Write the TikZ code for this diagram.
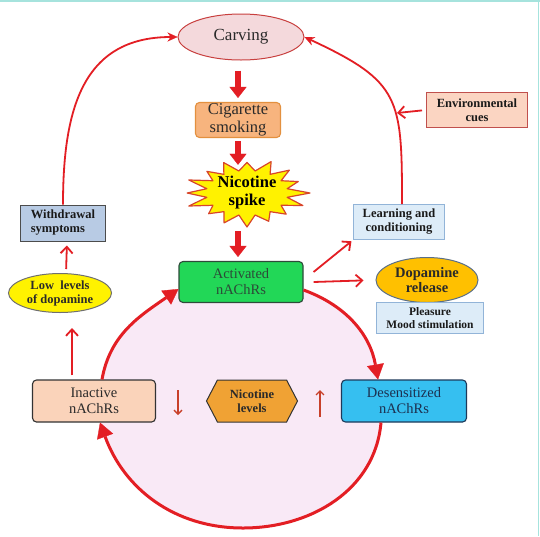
\documentclass[tikz,border=0pt]{standalone}
\usepackage{fontspec}
\setmainfont{Liberation Serif}
\usetikzlibrary{arrows.meta,shapes.geometric,shapes.symbols,backgrounds}
\definecolor{arrred}{HTML}{E31E24}
\definecolor{txt}{HTML}{2A2A2A}
\definecolor{carvfill}{HTML}{F4D9DC}
\definecolor{carvdraw}{HTML}{C8403F}
\definecolor{cigfill}{HTML}{F7B47E}
\definecolor{cigdraw}{HTML}{E3903F}
\definecolor{stardraw}{HTML}{D8452A}
\definecolor{actfill}{HTML}{22D757}
\definecolor{actdraw}{HTML}{2E4B3A}
\definecolor{acttxt}{HTML}{2C4A38}
\definecolor{pinkfill}{HTML}{F9E9F6}
\definecolor{inactfill}{HTML}{FAD3BA}
\definecolor{desfill}{HTML}{36BFF0}
\definecolor{desdraw}{HTML}{1E3A5A}
\definecolor{destxt}{HTML}{1C3050}
\definecolor{nicfill}{HTML}{F0A234}
\definecolor{lbfill}{HTML}{DDECF8}
\definecolor{lbdraw}{HTML}{92B4D8}
\definecolor{envfill}{HTML}{FBD5C2}
\definecolor{envdraw}{HTML}{C0504D}
\definecolor{dopfill}{HTML}{FFC000}
\definecolor{dopdraw}{HTML}{5A6F88}
\definecolor{withfill}{HTML}{B8CBE4}
\definecolor{lowdraw}{HTML}{707070}
\definecolor{smallred}{HTML}{C8402A}
\definecolor{tealline}{HTML}{A6E3DD}
\tikzset{
  base/.style={inner sep=0pt, align=center, text=txt},
  rbox/.style={base, draw, rounded corners=4pt, line width=1.1pt},
  sbox/.style={base, draw, line width=1pt},
  ellbox/.style={base, ellipse, draw, line width=1pt},
  blockarr/.style={draw=arrred, line width=6pt, -{Triangle[width=17pt,length=11pt,line width=0.3pt]}},
  cycarr/.style={draw=arrred, line width=3pt, -{Triangle[width=17pt,length=15pt,line width=0.3pt]}},
  thinarr/.style={draw=arrred, line width=1.8pt, -{Straight Barb[length=6.5pt,width=12pt,line width=1.8pt]}},
  looparr/.style={draw=arrred, line width=1.8pt, -{Stealth[length=10pt,width=9pt,line width=0.3pt]}},
  smallarr/.style={draw=smallred, line width=1.3pt, -{Straight Barb[length=4pt,width=8pt,line width=1.3pt]}},
  bigtxt/.style={font=\fontsize{16.5}{17.5}\selectfont},
  midtxt/.style={font=\fontsize{14.5}{16}\selectfont},
  boldtxt/.style={font=\bfseries\fontsize{12.5}{14}\selectfont}
}
\begin{document}
\begin{tikzpicture}[x=1pt,y=1pt]
\useasboundingbox (0,0) rectangle (540,-536);

% nodes
\node[ellbox, fill=carvfill, draw=carvdraw, minimum width=126pt, minimum height=46pt, font=\fontsize{17}{18}\selectfont] (carv) at (241,-37) {Carving};
\node[rbox, fill=cigfill, draw=cigdraw, minimum width=85pt, minimum height=35pt, bigtxt] (cig) at (238,-120) {Cigarette\\smoking};
\node[base, minimum width=90pt, minimum height=56pt, font=\bfseries\fontsize{16.5}{18}\selectfont, text=black] (spike) at (247,-193) {Nicotine\\spike};
\node[rbox, fill=actfill, draw=actdraw, minimum width=124pt, minimum height=41pt, midtxt, text=acttxt] (act) at (241,-282) {Activated\\nAChRs};
\node[rbox, fill=inactfill, draw=black!80, minimum width=123pt, minimum height=42pt, midtxt] (inact) at (94,-401) {Inactive\\nAChRs};
\node[rbox, fill=desfill, draw=desdraw, minimum width=125pt, minimum height=42pt, midtxt, text=destxt] (des) at (404,-401) {Desensitized\\nAChRs};
\node[base, signal, signal to=west and east, signal pointer angle=125, draw=black!80, line width=1pt, fill=nicfill, minimum width=91pt, minimum height=42pt, boldtxt] (nic) at (252,-401) {Nicotine\\levels};
\node[sbox, fill=lbfill, draw=lbdraw, minimum width=91pt, minimum height=35pt, boldtxt, text=black!90] (learn) at (399,-222) {Learning and\\conditioning};
\node[sbox, fill=envfill, draw=envdraw, minimum width=101pt, minimum height=35pt, boldtxt, text=black!90] (env) at (477,-110) {Environmental\\cues};
\node[ellbox, fill=dopfill, draw=dopdraw, minimum width=102pt, minimum height=45pt, font=\bfseries\fontsize{14.5}{15.5}\selectfont] (dop) at (427,-280) {Dopamine\\release};
\node[sbox, fill=lbfill, draw=lbdraw, minimum width=107pt, minimum height=31pt, font=\bfseries\fontsize{11.5}{13}\selectfont, text=black!90] (pleas) at (430,-318) {Pleasure\\Mood stimulation};
\node[sbox, fill=withfill, draw=black!70, minimum width=85pt, minimum height=36pt, boldtxt, align=left, text=black!90] (with) at (63,-223) {Withdrawal\\symptoms};
\node[ellbox, fill=yellow, draw=lowdraw, minimum width=103pt, minimum height=39pt, boldtxt] (low) at (60,-293) {Low \ levels\\of dopamine};

% cycle anchors
\coordinate (A) at ([yshift=-8pt]act.east);
\coordinate (B) at ([xshift=-26pt]des.north);
\coordinate (C) at ([xshift=-23pt]des.south);
\coordinate (bot) at (243,-528);
\coordinate (E) at ([xshift=6pt]inact.south);
\coordinate (F) at ([xshift=8pt]inact.north);
\coordinate (G) at ([yshift=-7pt]act.west);

\begin{pgfonlayer}{background}
\fill[white] (0,0) rectangle (540,-536);
\fill[pinkfill] (A) to[out=-20,in=100] (B) -- (C) to[out=-95,in=0] (bot)
  to[out=180,in=-70] (E) -- (F) to[out=80,in=-145] (G) -- (act.center) -- cycle;
\begin{scope}[shift={(spike.center)},x=63pt,y=34pt]
\filldraw[fill=yellow, draw=stardraw, line width=1.2pt, line join=round] (0:1)
  \foreach \a/\r in {11.25/.65, 22.5/.88, 33.75/.65, 45/.95, 56.25/.66, 67.5/1, 78.75/.66, 90/.9,
   101.25/.66, 112.5/.97, 123.75/.66, 135/.9, 146.25/.65, 157.5/1, 168.75/.65, 180/.95,
   191.25/.65, 202.5/1, 213.75/.65, 225/.86, 236.25/.66, 247.5/.95, 258.75/.66, 270/1,
   281.25/.66, 292.5/.9, 303.75/.66, 315/.88, 326.25/.65, 337.5/.96, 348.75/.65} { -- (\a:\r) } -- cycle;
\end{scope}
\end{pgfonlayer}

% teal frame lines
\draw[tealline, line width=1.5pt] (0,-0.75) -- (540,-0.75);
\draw[tealline, line width=1.5pt] (538.5,0) -- (538.5,-536);

% cycle arcs
\draw[cycarr] (A) to[out=-20,in=100] (B);
\draw[cycarr] (C) to[out=-95,in=0] (bot) to[out=180,in=-70] (E);
\draw[cycarr] (F) to[out=80,in=-145] (G);

% block arrows
\draw[blockarr, shorten <=10pt, shorten >=4pt] (carv.south -| cig.north) -- (cig.north);
\draw[blockarr, shorten <=3pt] (cig.south) -- (cig.south |- spike.north);
\draw[blockarr, shorten <=10pt, shorten >=4pt] (spike.south -| cig.south) -- (act.north -| cig.south);

% thin arrows
\draw[thinarr, shorten >=2pt] ([shift={(10pt,10pt)}]act.east) -- (learn.south west);
\draw[thinarr, shorten >=12pt] ([xshift=10pt]act.east) -- (dop.west);
\draw[thinarr, shorten <=4pt, shorten >=4pt] ([xshift=6pt]low.north) -- ([xshift=4pt]with.south);
\draw[thinarr, shorten <=4pt, shorten >=15pt] ([xshift=-22pt]inact.north) -- ([xshift=12pt]low.south);
\coordinate (envtip) at (397,-113);
\draw[thinarr, shorten <=4pt] (env.west) -- (envtip);

% loops to carving
\draw[looparr] (with.north) to[out=90,in=180,looseness=1.2] (carv.west);
\draw[looparr] ([xshift=3pt]learn.north) to[out=90,in=-25,looseness=1.4] (carv.east);

% small arrows in circle
\coordinate (d1) at (178,-390); \coordinate (d2) at (178,-415);
\coordinate (u1) at (320,-417); \coordinate (u2) at (320,-390);
\draw[smallarr] (d1) -- (d2);
\draw[smallarr] (u1) -- (u2);
\end{tikzpicture}
\end{document}
